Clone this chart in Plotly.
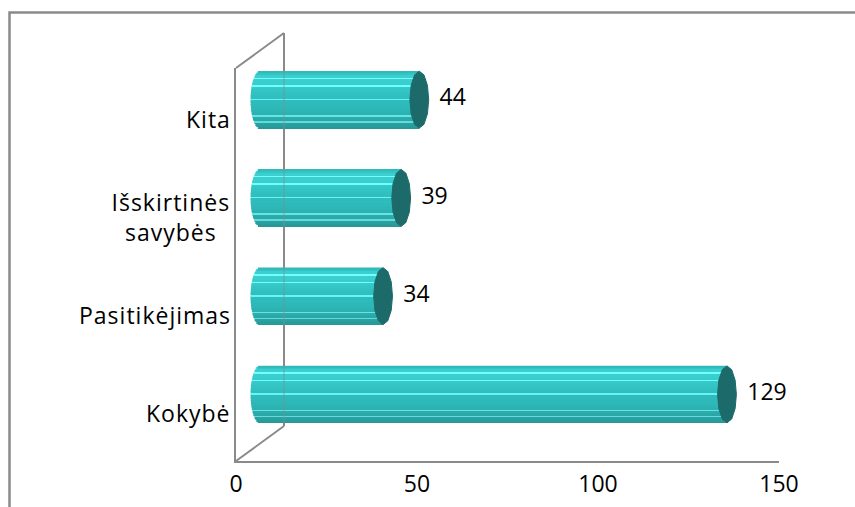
import numpy as np
import plotly.graph_objects as go

# Survey answers (bottom to top)
categories = ["Kokybė", "Pasitikėjimas", "Išskirtinės<br>savybės", "Kita"]
values = [129, 34, 39, 44]
x_ticks = [0, 50, 100, 150]

FONT = "Open Sans"
GRAY = "#8a8a8a"
CAP = "#1c6a6a"

pos = np.arange(len(categories), dtype=float)
vals = np.array(values, dtype=float)

# plot area in pixels
L, R, T, B = 236, 76, 68, 46
PW = 855 - L - R
PH = 507 - T - B
PX_PER_UNIT = PW / 150.0

# depth of the 3D box (pixels) and the bars' plane offset
DEPTH_X, DEPTH_Y = 48, 35
BAR_SHIFT_X, BAR_SHIFT_Y = 24, 17.5

# cylinder geometry in the depth-plane axes (x2 / y2)
H = 0.58           # cylinder thickness (category units)
A = 2.6            # horizontal semi-axis of the end ellipses (value units)
N = 38             # horizontal shading bands

# shading profile from bottom (0) to top (1)
stops = [0.0, 0.12, 0.35, 0.6, 0.8, 0.93, 1.0]
cols = [(40, 150, 150), (43, 166, 166), (46, 184, 184), (49, 193, 193),
        (58, 206, 206), (60, 208, 208), (46, 182, 182)]
highlights = {4, 8, 19, 28, 33}

fig = go.Figure()

h = H / N
for i in range(N):
    fc = (i + 0.5) / N
    rgb = [int(np.interp(fc, stops, [c[k] for c in cols])) for k in range(3)]
    if i in highlights:
        rgb = [min(255, c + 55) for c in rgb]
    t = (fc - 0.5) * 2
    left = -A * np.sqrt(max(0.0, 1 - t * t))
    base = np.full(len(vals), left)
    fig.add_trace(go.Bar(
        y=pos, x=vals - base, base=base, orientation="h",
        width=h * 1.02, offset=-H / 2 + i * h,
        marker=dict(color="rgb(%d,%d,%d)" % tuple(rgb), line=dict(width=0)),
        xaxis="x2", yaxis="y2", hoverinfo="skip", showlegend=False,
    ))

# end caps
theta = np.linspace(0, 2 * np.pi, 13)
for p, v in zip(pos, vals):
    fig.add_trace(go.Scatter(
        x=v + A * np.cos(theta), y=p + (H / 2) * np.sin(theta),
        mode="lines", fill="toself", fillcolor=CAP,
        line=dict(color=CAP, width=1),
        xaxis="x2", yaxis="y2", hoverinfo="skip", showlegend=False,
    ))

# value labels
fig.add_trace(go.Scatter(
    x=vals + 5.6, y=pos, mode="text", text=[str(v) for v in values],
    textposition="middle right", textfont=dict(family=FONT, size=23, color="black"),
    xaxis="x2", yaxis="y2", hoverinfo="skip", showlegend=False, cliponaxis=False,
))

# category labels at the front plane
for p, c in zip(pos, categories):
    two_line = "<br>" in c
    fig.add_annotation(
        x=0, xref="paper", y=p, yref="y", text=c, showarrow=False,
        xanchor="right", xshift=-9 if two_line else -3, yshift=-1.5,
        align="center" if two_line else "right",
        font=dict(family=FONT, size=23, color="black"),
    )

# back wall and floor edge (depth offset in paper units)
dx = DEPTH_X / PW
dy = DEPTH_Y / PH
shapes = [
    dict(type="line", xref="paper", yref="paper", x0=0, y0=1, x1=dx, y1=1 + dy,
         line=dict(color=GRAY, width=2), layer="below"),
    dict(type="line", xref="paper", yref="paper", x0=dx, y0=1 + dy, x1=dx, y1=dy,
         line=dict(color=GRAY, width=2), layer="below"),
    dict(type="line", xref="paper", yref="paper", x0=dx, y0=1 + dy, x1=dx, y1=dy,
         line=dict(color=GRAY, width=2), layer="above", opacity=0.35),
    dict(type="line", xref="paper", yref="paper", x0=dx, y0=dy, x1=0, y1=0,
         line=dict(color=GRAY, width=2), layer="below"),
    # chart frame
    dict(type="rect", xref="paper", yref="paper",
         x0=(9.5 - L) / PW, y0=-80 / PH, x1=(900 - L) / PW, y1=(PH + T - 12.5) / PH,
         line=dict(color=GRAY, width=2.5), fillcolor="rgba(0,0,0,0)", layer="below"),
]

shift_units_x = BAR_SHIFT_X / PX_PER_UNIT
shift_units_y = BAR_SHIFT_Y / (PH / 4.0)

fig.update_layout(
    width=855, height=507,
    margin=dict(l=L, r=R, t=T, b=B, autoexpand=False),
    paper_bgcolor="white", plot_bgcolor="rgba(0,0,0,0)",
    barmode="overlay",
    shapes=shapes,
    xaxis=dict(range=[0, 150], tickvals=x_ticks, ticktext=[str(v) for v in x_ticks],
               showline=True, linecolor=GRAY, linewidth=2, showgrid=False,
               zeroline=False, ticks="", ticklabelstandoff=1, automargin=False,
               tickfont=dict(family=FONT, size=23, color="black")),
    yaxis=dict(range=[-0.5, 3.5], showline=True, linecolor=GRAY, linewidth=2,
               showgrid=False, zeroline=False, showticklabels=False, ticks="",
               automargin=False),
    xaxis2=dict(range=[-shift_units_x, 150 - shift_units_x], overlaying="x",
                anchor="y2", visible=False),
    yaxis2=dict(range=[-0.5 - shift_units_y, 3.5 - shift_units_y], overlaying="y",
                anchor="x2", visible=False),
)

# slightly wider tracking on the category labels
post_js = (
    "var gd=document.getElementById('{plot_id}');"
    "gd.querySelectorAll('.annotation-text').forEach(function(e){"
    "e.style.letterSpacing='1px';});"
)
fig.write_html("out.html", post_script=post_js)
